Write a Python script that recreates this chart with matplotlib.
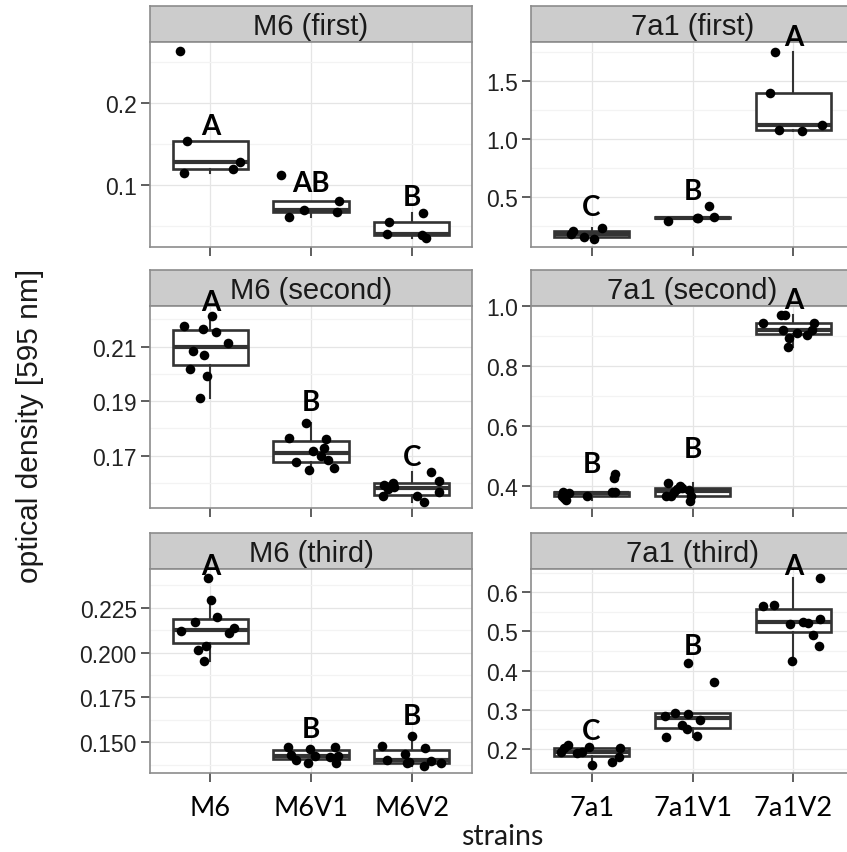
import matplotlib
matplotlib.use('Agg')
import matplotlib.pyplot as plt
from matplotlib.ticker import FixedLocator, FormatStrFormatter

strains_m6 = ['M6', 'M6V1', 'M6V2']
strains_7a1 = ['7a1', '7a1V1', '7a1V2']

# optical density per strain (one inner list per strain)
m6_first = [[0.263, 0.154, 0.114, 0.119, 0.128],
            [0.112, 0.061, 0.069, 0.081, 0.067],
            [0.055, 0.040, 0.039, 0.035, 0.066]]
m6_first_jit = [[-0.30, -0.23, -0.26, 0.22, 0.29],
                [-0.30, -0.22, -0.07, 0.28, 0.26],
                [-0.22, -0.24, 0.10, 0.14, 0.11]]

a1_first = [[0.205, 0.177, 0.153, 0.133, 0.226],
            [0.292, 0.315, 0.417, 0.321, 0.318],
            [1.751, 1.399, 1.081, 1.072, 1.121]]
a1_first_jit = [[-0.18, -0.20, -0.07, 0.02, 0.10],
                [-0.24, 0.04, 0.16, 0.21, 0.05],
                [-0.18, -0.23, -0.14, 0.08, 0.28]]

m6_second = [[0.2177, 0.2214, 0.2165, 0.2155, 0.2112, 0.2085, 0.2070, 0.2018, 0.1991, 0.1913],
             [0.1819, 0.1765, 0.1761, 0.1727, 0.1717, 0.1676, 0.1684, 0.1648, 0.1656, 0.1700],
             [0.1592, 0.1600, 0.1551, 0.1578, 0.1639, 0.1608, 0.1568, 0.1551, 0.1531, 0.1584]]
m6_second_jit = [[-0.26, 0.02, -0.07, 0.06, 0.18, -0.17, -0.06, -0.20, -0.03, -0.10],
                 [-0.05, -0.22, 0.15, 0.13, 0.02, -0.15, 0.17, -0.02, 0.23, 0.10],
                 [-0.27, -0.19, -0.28, -0.23, 0.19, 0.27, 0.27, 0.05, 0.12, -0.18]]

a1_second = [[0.3814, 0.3615, 0.3758, 0.368, 0.368, 0.3814, 0.3814, 0.4388, 0.4255, 0.3536],
             [0.409, 0.368, 0.368, 0.392, 0.401, 0.395, 0.387, 0.368, 0.352, 0.381],
             [0.945, 0.9725, 0.9725, 0.9205, 0.895, 0.865, 0.9095, 0.905, 0.9205, 0.9427]]
a1_second_jit = [[-0.28, -0.27, -0.22, -0.29, -0.05, 0.20, 0.23, 0.23, 0.22, -0.25],
                 [-0.24, -0.26, -0.21, -0.15, -0.12, -0.10, -0.03, -0.01, -0.02, -0.18],
                 [-0.30, -0.12, -0.08, -0.10, -0.04, -0.05, 0.04, 0.13, 0.18, 0.20]]

m6_third = [[0.2414, 0.2293, 0.2196, 0.2169, 0.2117, 0.2135, 0.2109, 0.2016, 0.2035, 0.1955],
            [0.1473, 0.1402, 0.1430, 0.1463, 0.1426, 0.1385, 0.1473, 0.1417, 0.1385, 0.1423],
            [0.1482, 0.1404, 0.1435, 0.1385, 0.1537, 0.1467, 0.1370, 0.1395, 0.1385, 0.1390]]
m6_third_jit = [[-0.02, 0.01, 0.07, -0.15, -0.29, 0.23, 0.19, -0.12, -0.04, -0.06],
                [-0.23, -0.15, -0.20, -0.01, 0.04, -0.03, 0.24, 0.19, 0.25, 0.27],
                [-0.29, -0.24, -0.07, -0.05, 0.00, 0.13, 0.12, 0.19, 0.29, -0.03]]

a1_third = [[0.1931, 0.2018, 0.2102, 0.189, 0.1915, 0.2043, 0.1592, 0.166, 0.1788, 0.2018],
            [0.4194, 0.370, 0.2834, 0.2918, 0.2893, 0.274, 0.2612, 0.251, 0.2298, 0.2324],
            [0.6357, 0.5658, 0.5684, 0.5191, 0.525, 0.5209, 0.5319, 0.4911, 0.4622, 0.4247]]
a1_third_jit = [[-0.30, -0.27, -0.23, -0.14, -0.09, -0.03, 0.00, 0.20, 0.27, 0.28],
                [-0.04, 0.21, -0.27, -0.17, -0.04, 0.07, -0.10, -0.05, -0.26, 0.04],
                [0.26, -0.30, -0.19, -0.03, 0.09, 0.14, 0.26, 0.19, 0.25, -0.01]]

# significance letters per strain
letters_m6_first = ['A', 'AB', 'B']
letters_a1_first = ['C', 'B', 'A']
letters_m6_second = ['A', 'B', 'C']
letters_a1_second = ['B', 'B', 'A']
letters_m6_third = ['A', 'B', 'B']
letters_a1_third = ['C', 'B', 'A']

plt.rcParams['font.family'] = ['Liberation Sans', 'DejaVu Sans']

W, H = 847, 853
fig = plt.figure(figsize=(W / 100, H / 100), dpi=100)

def rect(x0, y0, x1, y1):
    return [x0 / W, 1 - y1 / H, (x1 - x0) / W, (y1 - y0) / H]

cols = [(150, 472), (531, 854)]
rows = [(43, 248), (307, 509), (570, 774)]
strip_h = 36

# (row, col, title, strains, values, jitter, letters, letter y, ylim, ticks, minor, fmt)
panels = [
    (0, 0, 'M6 (first)', strains_m6, m6_first, m6_first_jit, letters_m6_first,
     [0.172, 0.102, 0.085], (0.0244, 0.274), [0.1, 0.2], [0.05, 0.15, 0.25], '%.1f'),
    (0, 1, '7a1 (first)', strains_7a1, a1_first, a1_first_jit, letters_a1_first,
     [0.408, 0.552, 1.881], (0.0641, 1.8406), [0.5, 1.0, 1.5], [0.25, 0.75, 1.25, 1.75], '%.1f'),
    (1, 0, 'M6 (second)', strains_m6, m6_second, m6_second_jit, letters_m6_second,
     [0.2263, 0.1898, 0.1696], (0.1508, 0.2249), [0.17, 0.19, 0.21], [0.16, 0.18, 0.20, 0.22], '%.2f'),
    (1, 1, '7a1 (second)', strains_7a1, a1_second, a1_second_jit, letters_a1_second,
     [0.4752, 0.5227, 1.02], (0.327, 1.001), [0.4, 0.6, 0.8, 1.0], [0.5, 0.7, 0.9], '%.1f'),
    (2, 0, 'M6 (third)', strains_m6, m6_third, m6_third_jit, letters_m6_third,
     [0.2484, 0.1575, 0.1649], (0.1329, 0.2465), [0.150, 0.175, 0.200, 0.225],
     [0.1375, 0.1625, 0.1875, 0.2125, 0.2375], '%.3f'),
    (2, 1, '7a1 (third)', strains_7a1, a1_third, a1_third_jit, letters_a1_third,
     [0.2467, 0.4638, 0.6663], (0.1388, 0.6594), [0.2, 0.3, 0.4, 0.5, 0.6],
     [0.15, 0.25, 0.35, 0.45, 0.55, 0.65], '%.1f'),
]

edge = '#333333'
for r, c, title, names, vals, jit, lets, let_y, ylim, ticks, minor, fmt in panels:
    x0, x1 = cols[c]
    y0, y1 = rows[r]

    # facet strip first, so the panel (and its letters) sits above it
    st = fig.add_axes(rect(x0, y0 - strip_h, x1, y0))
    st.set_zorder(1)
    st.set_facecolor('#CCCCCC')
    st.set_xticks([])
    st.set_yticks([])
    for s in st.spines.values():
        s.set_color('#8C8C8C')
        s.set_linewidth(1.2)
    st.text(0.5, 0.45, title, transform=st.transAxes, ha='center', va='center',
            fontsize=21, color='#1A1A1A')

    ax = fig.add_axes(rect(x0, y0, x1, y1))
    ax.set_zorder(3)
    pos = [1, 2, 3]
    ax.boxplot(vals, positions=pos, widths=0.75, whis=1.5, showfliers=False,
               showcaps=False, patch_artist=True,
               boxprops=dict(facecolor='white', edgecolor=edge, linewidth=1.9),
               whiskerprops=dict(color=edge, linewidth=1.5),
               medianprops=dict(color=edge, linewidth=3.0), zorder=2)
    for i in range(3):
        xs = [pos[i] + j for j in jit[i]]
        ax.scatter(xs, vals[i], s=48, color='black', zorder=3, linewidths=0)
        ax.text(pos[i], let_y[i], lets[i], ha='center', va='center', fontsize=20,
                fontweight='bold', family='Lato', clip_on=False, zorder=4)
    ax.set_xlim(0.4, 3.6)
    ax.set_ylim(*ylim)
    ax.set_xticks(pos)
    if r == 2:
        ax.set_xticklabels(names, fontsize=19.5, family='Lato')
    else:
        ax.set_xticklabels([])
    ax.yaxis.set_major_locator(FixedLocator(ticks))
    ax.yaxis.set_minor_locator(FixedLocator(minor))
    ax.yaxis.set_major_formatter(FormatStrFormatter(fmt))
    ax.tick_params(axis='y', which='minor', length=0)
    ax.tick_params(axis='both', which='major', length=6.5, width=1.1, color=edge)
    ax.tick_params(axis='y', labelsize=16.5, labelcolor='#222222', pad=3)
    ax.tick_params(axis='x', pad=9)
    ax.grid(True, which='major', color='#E5E5E5', linewidth=0.9, zorder=0)
    ax.grid(True, which='minor', axis='y', color='#F3F3F3', linewidth=0.9, zorder=0)
    ax.set_axisbelow(True)
    for s in ax.spines.values():
        s.set_color('#8C8C8C')
        s.set_linewidth(1.2)

fig.text(30 / W, 1 - 426 / H, 'optical density [595 nm]', rotation=90, ha='center',
         va='center', fontsize=21.5, color='#1A1A1A')
fig.text(502 / W, 1 - 845 / H, 'strains', ha='center', va='baseline', fontsize=20.5,
         family='Lato', color='#1A1A1A')

fig.savefig('out.png', dpi=100)
